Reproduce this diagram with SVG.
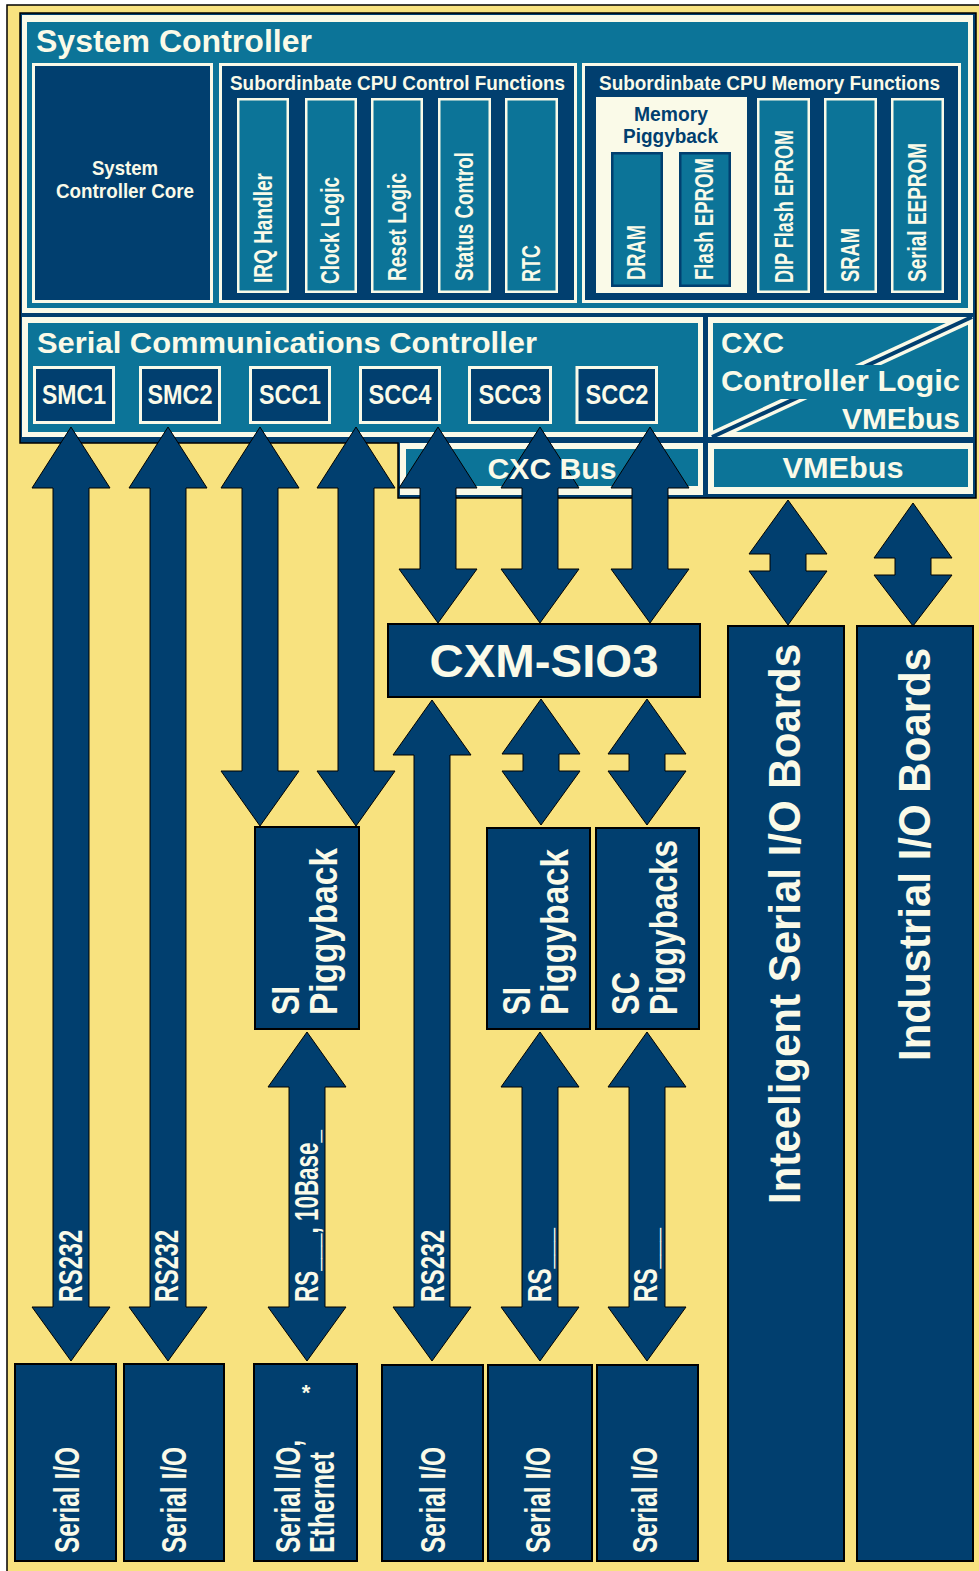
<svg xmlns="http://www.w3.org/2000/svg" width="979" height="1571" viewBox="0 0 979 1571">
<defs>
<style>
.bg{fill:#F8E27F;stroke:#000;stroke-width:1.5}
.nv{fill:#013F6F}
.cr{fill:#FAFAE8}
.tl{fill:#0C7498}
.box{fill:#013F6F;stroke:#000;stroke-width:2}
.crbox{fill:#013F6F;stroke:#FAFAE8;stroke-width:3}
.col{fill:#0C7498;stroke:#FAFAE8;stroke-width:2.5}
.col2{fill:#0C7498;stroke:#013F6F;stroke-width:2.5}
.arr{fill:#013F6F;stroke:#000;stroke-width:1}
text{font-family:"Liberation Sans",Arial,Helvetica,sans-serif;font-weight:bold;fill:#FAFAE8}
.dk{fill:#013F6F}
</style>
<clipPath id="cxcclip"><rect x="708" y="317" width="265" height="120"/></clipPath>
</defs>

<rect class="bg" x="7" y="5" width="990" height="1590"/>

<g id="frame">
<polygon points="20,13 976,13 976,498 398,498 398,443 20,443" fill="#013F6F" stroke="#000" stroke-width="1.5"/>
</g>

<g id="system-controller">
<rect class="cr" x="22" y="15" width="951" height="298"/>
<rect class="tl" x="27" y="22" width="941" height="286"/>
<text x="36" y="52" font-size="31" textLength="276" lengthAdjust="spacingAndGlyphs">System Controller</text>
</g>

<g id="system-controller-core">
<rect class="crbox" x="33.5" y="64.5" width="178" height="237"/>
<text x="125" y="175" font-size="21" text-anchor="middle" textLength="66" lengthAdjust="spacingAndGlyphs">System</text>
<text x="125" y="198" font-size="21" text-anchor="middle" textLength="138" lengthAdjust="spacingAndGlyphs">Controller Core</text>
</g>

<g id="cpu-control-functions">
<rect class="crbox" x="220.5" y="64.5" width="355" height="237"/>
<text x="230" y="90" font-size="21" textLength="335" lengthAdjust="spacingAndGlyphs">Subordinbate CPU Control Functions</text>
</g>
<g id="irq-handler">
<rect class="col" x="238.25" y="99.25" width="49.5" height="192.5"/>
<text transform="translate(272,283) rotate(-90)" font-size="25" textLength="110" lengthAdjust="spacingAndGlyphs">IRQ Handler</text>
</g>
<g id="clock-logic">
<rect class="col" x="306.25" y="99.25" width="49.5" height="192.5"/>
<text transform="translate(339,284) rotate(-90)" font-size="25" textLength="107" lengthAdjust="spacingAndGlyphs">Clock Logic</text>
</g>
<g id="reset-logic">
<rect class="col" x="372.25" y="99.25" width="49.5" height="192.5"/>
<text transform="translate(406,281) rotate(-90)" font-size="25" textLength="108" lengthAdjust="spacingAndGlyphs">Reset Logic</text>
</g>
<g id="status-control">
<rect class="col" x="439.25" y="99.25" width="50.5" height="192.5"/>
<text transform="translate(473,281) rotate(-90)" font-size="25" textLength="129" lengthAdjust="spacingAndGlyphs">Status Control</text>
</g>
<g id="rtc">
<rect class="col" x="506.25" y="99.25" width="50.5" height="192.5"/>
<text transform="translate(540,282) rotate(-90)" font-size="25" textLength="37" lengthAdjust="spacingAndGlyphs">RTC</text>
</g>

<g id="cpu-memory-functions">
<rect class="crbox" x="583.5" y="64.5" width="376" height="237"/>
<text x="599" y="90" font-size="21" textLength="341" lengthAdjust="spacingAndGlyphs">Subordinbate CPU Memory Functions</text>
</g>
<g id="memory-piggyback">
<rect class="cr" x="596" y="97" width="151" height="196"/>
<text class="dk" x="671" y="121" font-size="21" text-anchor="middle" textLength="74" lengthAdjust="spacingAndGlyphs">Memory</text>
<text class="dk" x="670.5" y="143" font-size="21" text-anchor="middle" textLength="95" lengthAdjust="spacingAndGlyphs">Piggyback</text>
</g>
<g id="dram">
<rect class="col2" x="612.25" y="153.25" width="49.5" height="132.5"/>
<text transform="translate(645,280) rotate(-90)" font-size="25" textLength="55" lengthAdjust="spacingAndGlyphs">DRAM</text>
</g>
<g id="flash-eprom">
<rect class="col2" x="680.25" y="153.25" width="49.5" height="132.5"/>
<text transform="translate(713,280) rotate(-90)" font-size="25" textLength="122" lengthAdjust="spacingAndGlyphs">Flash EPROM</text>
</g>
<g id="dip-flash-eprom">
<rect class="col" x="758.25" y="99.25" width="50.5" height="192.5"/>
<text transform="translate(793,283) rotate(-90)" font-size="25" textLength="153" lengthAdjust="spacingAndGlyphs">DIP Flash EPROM</text>
</g>
<g id="sram">
<rect class="col" x="825.25" y="99.25" width="50.5" height="192.5"/>
<text transform="translate(859,282) rotate(-90)" font-size="25" textLength="54" lengthAdjust="spacingAndGlyphs">SRAM</text>
</g>
<g id="serial-eeprom">
<rect class="col" x="892.25" y="99.25" width="50.5" height="192.5"/>
<text transform="translate(926,282) rotate(-90)" font-size="25" textLength="139" lengthAdjust="spacingAndGlyphs">Serial EEPROM</text>
</g>

<g id="serial-communications-controller">
<rect class="cr" x="22" y="317" width="681" height="120"/>
<rect class="tl" x="28" y="323" width="670" height="109"/>
<text x="37" y="353" font-size="30" textLength="500" lengthAdjust="spacingAndGlyphs">Serial Communications Controller</text>
</g>
<g id="smc1"><rect class="crbox" x="34.5" y="367.5" width="79" height="55"/><text x="74" y="404" font-size="28" text-anchor="middle" textLength="64" lengthAdjust="spacingAndGlyphs">SMC1</text></g>
<g id="smc2"><rect class="crbox" x="140.5" y="367.5" width="79" height="55"/><text x="180" y="404" font-size="28" text-anchor="middle" textLength="65" lengthAdjust="spacingAndGlyphs">SMC2</text></g>
<g id="scc1"><rect class="crbox" x="250.5" y="367.5" width="79" height="55"/><text x="290" y="404" font-size="28" text-anchor="middle" textLength="62" lengthAdjust="spacingAndGlyphs">SCC1</text></g>
<g id="scc4"><rect class="crbox" x="360.5" y="367.5" width="79" height="55"/><text x="400" y="404" font-size="28" text-anchor="middle" textLength="63" lengthAdjust="spacingAndGlyphs">SCC4</text></g>
<g id="scc3"><rect class="crbox" x="469.5" y="367.5" width="81" height="55"/><text x="510" y="404" font-size="28" text-anchor="middle" textLength="63" lengthAdjust="spacingAndGlyphs">SCC3</text></g>
<g id="scc2"><rect class="crbox" x="577" y="367.5" width="79.5" height="55"/><text x="617" y="404" font-size="28" text-anchor="middle" textLength="63" lengthAdjust="spacingAndGlyphs">SCC2</text></g>

<g id="cxc-controller-logic">
<rect class="cr" x="708" y="317" width="265" height="120"/>
<rect class="tl" x="713" y="323" width="255" height="109"/>
<g clip-path="url(#cxcclip)">
<line x1="712" y1="437" x2="972" y2="317" stroke="#FAFAE8" stroke-width="11"/>
<line x1="712" y1="437" x2="972" y2="317" stroke="#013F6F" stroke-width="4"/>
</g>
<rect class="tl" x="713" y="365" width="255" height="34"/>
<text x="721" y="353" font-size="30" textLength="63" lengthAdjust="spacingAndGlyphs">CXC</text>
<text x="721" y="391" font-size="30" textLength="239" lengthAdjust="spacingAndGlyphs">Controller Logic</text>
<text x="960" y="429" font-size="30" text-anchor="end" textLength="118" lengthAdjust="spacingAndGlyphs">VMEbus</text>
</g>

<g id="cxc-bus">
<rect class="cr" x="400" y="443" width="303" height="52"/>
<rect class="tl" x="406" y="449" width="292" height="37"/>
</g>
<g id="vmebus">
<rect class="cr" x="708" y="443" width="265" height="51"/>
<rect class="tl" x="714" y="449" width="254" height="38"/>
<text x="843" y="478" font-size="30" text-anchor="middle" textLength="121" lengthAdjust="spacingAndGlyphs">VMEbus</text>
</g>

<g id="connectors">
<polygon class="arr" points="71,427 110,488 89,488 89,1307 110,1307 71,1361 32,1307 53,1307 53,488 32,488"/>
<polygon class="arr" points="168,427 207,488 186,488 186,1307 207,1307 168,1361 129,1307 150,1307 150,488 129,488"/>
<polygon class="arr" points="260,427 299,488 278,488 278,771 299,771 260,826 221,771 242,771 242,488 221,488"/>
<polygon class="arr" points="356,427 395,488 374,488 374,771 395,771 356,826 317,771 338,771 338,488 317,488"/>
<polygon class="arr" points="438,427 477,488 456,488 456,569 477,569 438,623 399,569 420,569 420,488 399,488"/>
<polygon class="arr" points="540,427 579,488 558,488 558,569 579,569 540,623 501,569 522,569 522,488 501,488"/>
<polygon class="arr" points="650,427 689,488 668,488 668,569 689,569 650,623 611,569 632,569 632,488 611,488"/>
<polygon class="arr" points="432,700 471,755 450,755 450,1307 471,1307 432,1361 393,1307 414,1307 414,755 393,755"/>
<polygon class="arr" points="541,699 580,754 559,754 559,771 580,771 541,825 502,771 523,771 523,754 502,754"/>
<polygon class="arr" points="647,699 686,754 665,754 665,771 686,771 647,825 608,771 629,771 629,754 608,754"/>
<polygon class="arr" points="307,1032 346,1087 325,1087 325,1307 346,1307 307,1361 268,1307 289,1307 289,1087 268,1087"/>
<polygon class="arr" points="540,1032 579,1087 558,1087 558,1307 579,1307 540,1361 501,1307 522,1307 522,1087 501,1087"/>
<polygon class="arr" points="647,1032 686,1087 665,1087 665,1307 686,1307 647,1361 608,1307 629,1307 629,1087 608,1087"/>
<polygon class="arr" points="788,500 827,554 806,554 806,571 827,571 788,625 749,571 770,571 770,554 749,554"/>
<polygon class="arr" points="913,503 952,558 931,558 931,575 952,575 913,626 874,575 895,575 895,558 874,558"/>
<text transform="translate(82,1302) rotate(-90)" font-size="34" textLength="72" lengthAdjust="spacingAndGlyphs">RS232</text>
<text transform="translate(178,1302) rotate(-90)" font-size="34" textLength="72" lengthAdjust="spacingAndGlyphs">RS232</text>
<text transform="translate(318,1302) rotate(-90)" font-size="34" textLength="172" lengthAdjust="spacingAndGlyphs">RS___, 10Base_</text>
<text transform="translate(444,1302) rotate(-90)" font-size="34" textLength="72" lengthAdjust="spacingAndGlyphs">RS232</text>
<text transform="translate(551,1302) rotate(-90)" font-size="34" textLength="74" lengthAdjust="spacingAndGlyphs">RS___</text>
<text transform="translate(657,1302) rotate(-90)" font-size="34" textLength="74" lengthAdjust="spacingAndGlyphs">RS___</text>
</g>

<text x="552" y="479" font-size="29" text-anchor="middle" textLength="129" lengthAdjust="spacingAndGlyphs">CXC Bus</text>

<g id="cxm-sio3">
<rect class="box" x="388" y="624" width="312" height="73"/>
<text x="544" y="677" font-size="46" text-anchor="middle" textLength="229" lengthAdjust="spacingAndGlyphs">CXM-SIO3</text>
</g>

<g id="si-piggyback-1">
<rect class="box" x="255" y="827" width="104" height="202"/>
<text transform="translate(299,1015) rotate(-90)" font-size="38" textLength="29" lengthAdjust="spacingAndGlyphs">SI</text>
<text transform="translate(337,1015) rotate(-90)" font-size="38" textLength="167" lengthAdjust="spacingAndGlyphs">Piggyback</text>
</g>
<g id="si-piggyback-2">
<rect class="box" x="487" y="828" width="103" height="201"/>
<text transform="translate(530,1015) rotate(-90)" font-size="38" textLength="28" lengthAdjust="spacingAndGlyphs">SI</text>
<text transform="translate(568,1015) rotate(-90)" font-size="38" textLength="166" lengthAdjust="spacingAndGlyphs">Piggyback</text>
</g>
<g id="sc-piggybacks">
<rect class="box" x="596" y="828" width="103" height="201"/>
<text transform="translate(639,1015) rotate(-90)" font-size="38" textLength="43" lengthAdjust="spacingAndGlyphs">SC</text>
<text transform="translate(677,1015) rotate(-90)" font-size="38" textLength="175" lengthAdjust="spacingAndGlyphs">Piggybacks</text>
</g>

<g id="serial-io-1">
<rect class="box" x="15" y="1364" width="101" height="197"/>
<text transform="translate(79,1553) rotate(-90)" font-size="35" textLength="106" lengthAdjust="spacingAndGlyphs">Serial I/O</text>
</g>
<g id="serial-io-2">
<rect class="box" x="124" y="1364" width="100" height="197"/>
<text transform="translate(186,1553) rotate(-90)" font-size="35" textLength="106" lengthAdjust="spacingAndGlyphs">Serial I/O</text>
</g>
<g id="serial-io-ethernet">
<rect class="box" x="254" y="1364" width="103" height="197"/>
<text x="306" y="1400" font-size="22" text-anchor="middle">*</text>
<text transform="translate(300,1553) rotate(-90)" font-size="35" textLength="113" lengthAdjust="spacingAndGlyphs">Serial I/O,</text>
<text transform="translate(334,1553) rotate(-90)" font-size="35" textLength="101" lengthAdjust="spacingAndGlyphs">Ethernet</text>
</g>
<g id="serial-io-4">
<rect class="box" x="382" y="1365" width="101" height="196"/>
<text transform="translate(445,1553) rotate(-90)" font-size="35" textLength="106" lengthAdjust="spacingAndGlyphs">Serial I/O</text>
</g>
<g id="serial-io-5">
<rect class="box" x="488" y="1365" width="104" height="196"/>
<text transform="translate(550,1553) rotate(-90)" font-size="35" textLength="106" lengthAdjust="spacingAndGlyphs">Serial I/O</text>
</g>
<g id="serial-io-6">
<rect class="box" x="597" y="1365" width="101" height="196"/>
<text transform="translate(657,1553) rotate(-90)" font-size="35" textLength="106" lengthAdjust="spacingAndGlyphs">Serial I/O</text>
</g>

<g id="intelligent-serial-io-boards">
<rect class="box" x="728" y="626" width="116" height="935"/>
<text transform="translate(800,1204) rotate(-90)" font-size="45" textLength="560" lengthAdjust="spacingAndGlyphs">Inteeligent Serial I/O Boards</text>
</g>
<g id="industrial-io-boards">
<rect class="box" x="857" y="626" width="116" height="935"/>
<text transform="translate(930,1061) rotate(-90)" font-size="45" textLength="413" lengthAdjust="spacingAndGlyphs">Industrial I/O Boards</text>
</g>
</svg>
